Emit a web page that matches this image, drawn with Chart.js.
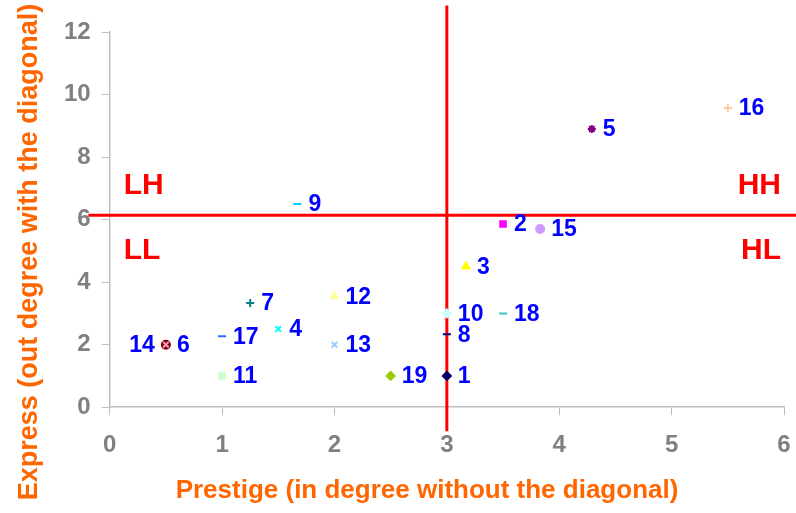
<!DOCTYPE html>
<html>
<head>
<meta charset="utf-8">
<script src="https://cdn.jsdelivr.net/npm/chart.js@4.4.1/dist/chart.umd.min.js"></script>
<style>
  html, body { margin: 0; padding: 0; background: #ffffff; }
  #wrap { width: 796px; height: 513px; }
</style>
</head>
<body>
<div id="wrap"><canvas id="chart"></canvas></div>
<script>
// Node labels and their scores
const nodeLabels = ['1', '2', '3', '4', '5', '6', '7', '8', '9', '10', '11', '12', '13', '14', '15', '16', '17', '18', '19'];
const prestige = [3, 3.5, 3.17, 1.5, 4.29, 0.5, 1.25, 3, 1.67, 3, 1, 2, 2, 0.5, 3.83, 5.5, 1, 3.5, 2.5];
const express = [1, 5.86, 4.5, 2.5, 8.9, 2, 3.33, 2.33, 6.5, 3, 1, 3.55, 2, 2, 5.7, 9.57, 2.27, 3, 1];

// Quadrant split values
const prestigeSplit = 3;
const expressSplit = 6.14;
const quadrantNames = ['LH', 'HH', 'LL', 'HL'];

// Extent of the red split lines (they run past the axes)
const hLineX = [-0.19, 6.3];
const vLineY = [-0.77, 12.85];

// Marker look for each node
const markerStyles = ['rectRot', 'rect', 'triangle', 'crossRot', 'star', 'circle', 'cross', 'line', 'line', 'rectRot',
                      'rect', 'triangle', 'crossRot', 'crossRot', 'circle', 'cross', 'line', 'line', 'rectRot'];
const markerColors = ['#000066', '#FF00FF', '#FFFF00', '#00FFFF', '#800080', '#800000', '#008080', '#000080', '#00CCFF', '#CCFFFF',
                      '#CCFFCC', '#FFFF99', '#99CCFF', '#FF99CC', '#CC99FF', '#FFCC99', '#3366FF', '#33CCCC', '#99CC00'];

const points = prestige.map((x, i) => ({ x: x, y: express[i] }));

const fontFamily = "'Liberation Sans', Arial, sans-serif";

// Draws the node numbers, quadrant names and axis titles
const labelPlugin = {
    id: 'labels',
    afterDatasetsDraw(chart) {
        const ctx = chart.ctx;
        const meta = chart.getDatasetMeta(0);
        const ys = chart.scales.y;
        const area = chart.chartArea;

        ctx.save();
        ctx.font = 'bold 23px ' + fontFamily;
        ctx.fillStyle = '#0000FF';
        ctx.textBaseline = 'middle';
        meta.data.forEach((pt, i) => {
            if (nodeLabels[i] === '14') {
                ctx.textAlign = 'right';
                ctx.fillText(nodeLabels[i], pt.x - 11, pt.y + 1);
            } else {
                ctx.textAlign = 'left';
                ctx.fillText(nodeLabels[i], pt.x + 11, pt.y + 1);
            }
        });

        // quadrant names
        const splitY = ys.getPixelForValue(expressSplit);
        ctx.font = 'bold 30px ' + fontFamily;
        ctx.fillStyle = '#FF0000';
        ctx.textAlign = 'left';
        ctx.fillText(quadrantNames[0], area.left + 14, splitY - 29);
        ctx.fillText(quadrantNames[2], area.left + 14, splitY + 36);
        ctx.textAlign = 'right';
        ctx.fillText(quadrantNames[1], area.right - 3, splitY - 29);
        ctx.fillText(quadrantNames[3], area.right - 3, splitY + 36);

        // axis titles
        ctx.fillStyle = '#FF6600';
        ctx.textAlign = 'center';
        ctx.font = 'bold 26px ' + fontFamily;
        ctx.fillText('Prestige (in degree without the diagonal)', 427, 491);
        ctx.font = 'bold 27px ' + fontFamily;
        ctx.translate(30, 252);
        ctx.rotate(-Math.PI / 2);
        ctx.fillText('Express (out degree with the diagonal)', 0, 0);
        ctx.restore();
    }
};

new Chart(document.getElementById('chart'), {
    type: 'scatter',
    data: {
        datasets: [
            {
                data: points,
                order: 0,
                pointStyle: markerStyles,
                pointRadius: 4,
                pointBackgroundColor: markerColors,
                pointBorderColor: markerColors,
                pointBorderWidth: 2
            },
            {
                data: hLineX.map(x => ({ x: x, y: expressSplit })),
                order: 1,
                showLine: true,
                clip: false,
                borderColor: '#FF0000',
                borderWidth: 3,
                pointRadius: 0
            },
            {
                data: vLineY.map(y => ({ x: prestigeSplit, y: y })),
                order: 1,
                showLine: true,
                clip: false,
                borderColor: '#FF0000',
                borderWidth: 3,
                pointRadius: 0
            }
        ]
    },
    options: {
        responsive: true,
        maintainAspectRatio: false,
        animation: false,
        layout: {
            padding: { left: 53, right: 12, top: 32, bottom: 37 }
        },
        plugins: {
            legend: { display: false },
            tooltip: { enabled: false }
        },
        scales: {
            x: {
                type: 'linear',
                min: 0,
                max: 6,
                ticks: {
                    stepSize: 1,
                    padding: 4,
                    color: '#808080',
                    font: { family: fontFamily, size: 24, weight: 'bold', lineHeight: '52.8px' }
                },
                grid: { drawOnChartArea: false, color: '#BFBFBF', tickLength: 8 },
                border: { color: '#BFBFBF', width: 1.5 }
            },
            y: {
                type: 'linear',
                min: 0,
                max: 12,
                ticks: {
                    stepSize: 2,
                    padding: 11,
                    color: '#808080',
                    font: { family: fontFamily, size: 24, weight: 'bold' }
                },
                grid: { drawOnChartArea: false, color: '#BFBFBF', tickLength: 8 },
                border: { color: '#BFBFBF', width: 1.5 }
            }
        }
    },
    plugins: [labelPlugin]
});
</script>
</body>
</html>
